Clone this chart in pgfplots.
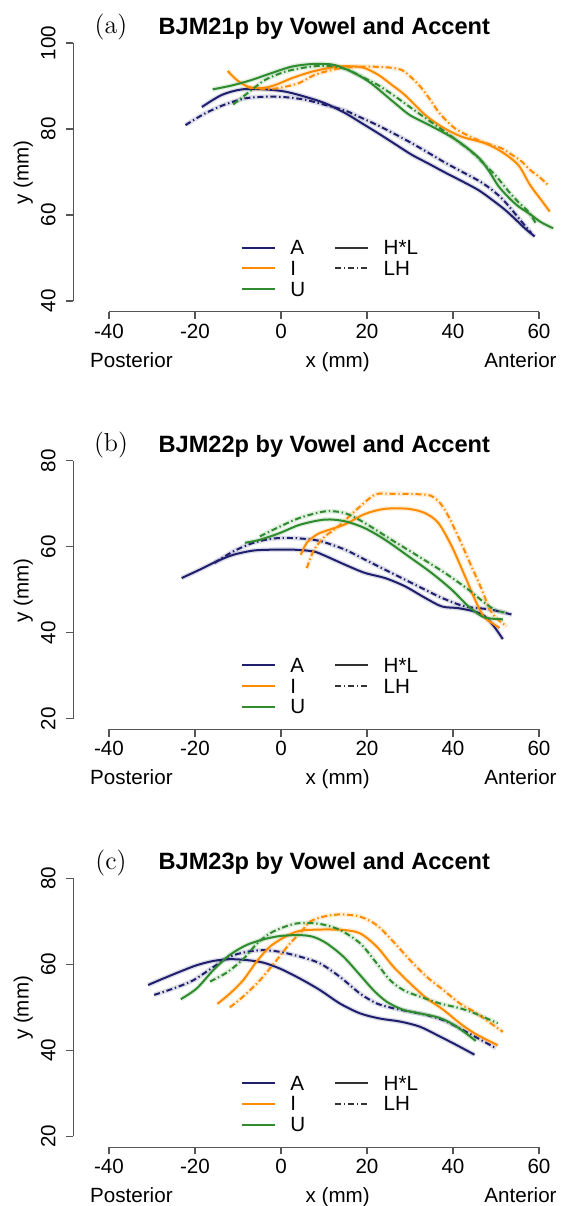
\documentclass[border=0pt]{standalone}
\usepackage{fontspec}
\usepackage{pgfplots}
\usepackage{pgfplotstable}
\pgfplotsset{compat=1.18}
\newfontfamily\sansf{Liberation Sans}
\definecolor{cA}{HTML}{1F1F6E}
\definecolor{cI}{HTML}{FF8C00}
\definecolor{cU}{HTML}{2E8B2E}
\definecolor{axc}{HTML}{555555}
\newcommand\tfont{\sansf\fontsize{10.3}{12}\selectfont}

% ---------- panel (a) ----------
\pgfplotstableread{
x y
-18.4 85.1
-13.8 87.9
-9.1 89.2
-3.7 89.2
0.9 88.7
5.6 87.5
10.2 86.0
14.9 83.7
18.7 81.4
22.6 79.0
26.5 76.5
30.4 74.0
34.2 72.0
38.1 69.9
42.0 67.9
45.9 65.8
49.0 63.6
52.1 61.2
54.5 59.0
56.7 56.9
59.0 55.0
}\paAH
\pgfplotstableread{
x y
-22.2 80.9
-17.7 83.6
-13.0 85.7
-8.4 87.1
-3.7 87.5
0.9 87.4
5.6 86.8
10.2 85.6
14.9 84.3
18.7 82.6
22.6 80.8
26.5 78.8
30.4 76.7
34.2 74.5
38.1 72.2
42.0 70.1
45.9 68.0
48.6 66.2
51.3 63.9
53.7 61.2
56.0 58.4
58.2 55.8
}\paAL
\pgfplotstableread{
x y
-12.4 93.5
-10.3 91.4
-7.6 89.8
-4.5 89.5
-1.4 90.2
2.5 91.8
7.1 93.3
11.8 94.3
14.9 94.6
19.0 94.3
22.6 92.6
25.7 90.3
28.8 87.9
33.5 83.3
37.4 80.5
42.0 78.2
47.4 76.7
51.3 74.7
55.2 71.6
57.9 67.0
60.5 63.5
62.5 60.8
}\paIH
\pgfplotstableread{
x y
-8.0 89.8
-6.8 89.5
-3.0 89.3
-0.6 89.5
4.0 90.6
7.9 92.6
11.8 93.7
14.9 94.3
20.0 94.5
25.0 94.3
28.1 93.7
30.5 91.8
32.7 89.5
34.7 86.8
36.6 84.0
38.5 81.9
40.5 80.1
43.2 78.6
45.9 77.4
48.6 76.4
51.3 75.5
53.7 74.0
56.0 72.4
57.9 70.5
60.0 68.9
62.1 67.0
}\paIL
\pgfplotstableread{
x y
-15.9 89.2
-11.5 90.1
-6.8 91.4
-2.2 93.0
2.5 94.5
7.1 95.1
11.8 95.0
14.9 94.0
18.0 92.5
21.1 90.5
26.5 86.0
30.0 83.2
34.3 81.0
40.5 77.6
45.9 73.4
48.5 70.0
50.5 66.8
53.0 64.0
55.2 62.0
57.9 60.2
60.5 58.3
63.3 56.9
}\paUH
\pgfplotstableread{
x y
-11.1 85.7
-6.8 89.1
-3.7 91.4
0.9 93.3
5.6 94.3
10.2 94.7
14.9 94.0
18.7 92.2
22.6 90.2
26.5 87.6
30.4 84.8
34.2 82.1
38.1 79.4
41.2 77.1
44.3 74.7
47.0 72.1
49.8 69.3
51.7 67.0
53.6 64.7
55.6 62.6
57.5 60.8
59.3 58.0
}\paUL

% ---------- panel (b) ----------
\pgfplotstableread{
x y
-23.1 52.7
-18.8 54.7
-14.9 56.6
-11.1 58.1
-6.4 59.1
-1.8 59.3
2.9 59.3
7.5 58.9
10.2 57.9
14.9 55.8
19.5 53.9
24.2 52.7
28.8 50.8
33.5 48.1
37.4 46.1
41.2 45.7
45.1 44.9
47.4 43.8
49.5 41.5
51.6 38.5
}\pbAH
\pgfplotstableread{
x y
-15.5 56.2
-11.1 58.9
-6.4 60.9
-1.8 61.9
2.9 62.0
7.5 61.6
10.2 61.0
14.9 59.3
19.5 57.0
25.7 53.9
31.9 50.8
37.4 48.1
42.8 46.1
48.6 45.4
53.7 44.2
}\pbAL
\pgfplotstableread{
x y
4.6 58.1
6.0 60.9
8.3 62.8
10.2 63.6
14.9 65.2
19.5 67.6
24.2 68.8
29.6 68.8
33.5 67.8
36.6 65.5
39.7 60.1
42.8 53.1
45.1 47.7
47.1 43.8
49.0 42.3
50.8 41.1
}\pbIH
\pgfplotstableread{
x y
6.0 55.0
7.5 58.9
9.1 61.2
10.2 62.4
13.3 64.7
18.0 69.0
21.9 72.1
25.7 72.3
33.5 72.1
35.8 71.3
38.1 68.6
41.2 62.4
44.3 55.4
46.7 50.0
48.6 45.3
50.5 43.0
52.5 41.5
}\pbIL
\pgfplotstableread{
x y
-8.4 60.9
-4.9 61.6
-0.2 63.2
4.4 65.1
10.2 66.3
14.9 65.9
19.5 64.3
24.2 61.6
29.6 57.8
35.0 53.9
39.7 50.0
43.6 46.1
46.7 43.8
48.6 43.3
51.6 43.1
}\pbUH
\pgfplotstableread{
x y
-4.9 62.4
-0.2 64.7
4.4 66.7
10.2 68.2
14.9 67.8
19.5 65.5
25.7 61.6
31.9 57.8
38.1 53.9
43.6 50.0
47.4 46.9
50.0 45.2
52.5 44.6
}\pbUL

% ---------- panel (c) ----------
\pgfplotstableread{
x y
-30.9 55.2
-27.4 56.7
-23.5 58.3
-19.6 59.8
-15.7 60.8
-11.9 61.2
-8.0 61.0
-4.1 60.4
-0.2 59.0
4.4 56.7
9.1 54.0
13.7 50.9
18.4 48.6
23.0 47.4
27.7 46.7
32.3 45.5
37.0 43.2
40.9 41.2
45.0 39.0
}\pcAH
\pgfplotstableread{
x y
-29.5 52.9
-25.0 54.4
-20.4 56.3
-15.7 59.4
-11.9 61.8
-8.0 62.9
-4.1 63.3
-0.2 62.9
4.4 61.8
9.1 60.2
13.7 57.1
18.4 53.2
22.3 50.9
26.1 49.8
30.0 49.0
33.9 48.2
37.8 47.0
41.6 45.1
45.1 43.2
50.0 40.5
}\pcAL
\pgfplotstableread{
x y
-14.8 50.8
-11.9 53.2
-8.8 56.3
-5.7 60.6
-2.6 64.1
1.3 66.6
4.4 67.8
9.1 68.1
14.5 68.0
18.4 67.2
22.3 64.1
26.1 59.5
30.0 55.6
33.9 52.1
37.8 49.4
41.6 46.3
45.1 43.9
50.4 41.2
}\pcIH
\pgfplotstableread{
x y
-11.9 50.0
-8.8 52.5
-4.9 56.3
-1.0 61.0
2.1 64.9
4.4 67.2
6.7 69.9
9.5 71.0
12.2 71.5
14.5 71.6
18.4 71.1
22.3 69.1
26.1 65.3
30.0 61.0
33.9 57.1
37.8 54.0
41.6 50.9
45.1 48.9
48.5 46.5
51.6 44.3
}\pcIL
\pgfplotstableread{
x y
-23.3 51.9
-19.6 54.4
-15.7 58.7
-11.9 62.2
-8.0 64.5
-4.1 65.8
-0.2 66.6
4.4 66.8
7.5 66.4
10.6 64.9
14.5 61.8
18.4 57.5
21.5 54.0
24.6 51.3
28.5 49.4
32.3 48.6
37.0 47.5
40.9 45.5
45.3 42.2
}\pcUH
\pgfplotstableread{
x y
-16.5 56.0
-12.6 58.1
-8.8 61.2
-5.7 64.7
-2.6 67.2
1.3 68.9
4.4 69.6
9.1 69.4
13.7 68.0
18.4 64.9
22.3 60.2
25.3 56.4
28.5 54.0
32.3 52.5
37.0 50.9
41.6 49.8
45.1 48.6
50.4 46.3
}\pcUL

\pgfplotsset{
  tongue/.style={
    scale only axis, width=241.445pt, height=138.675pt,
    xmin=-48.3, xmax=64, anchor=south west, clip=false,
    axis x line*=bottom, axis y line*=left,
    axis line style={draw=none},
    tick align=outside, major tick length=3.6pt,
    tick style={axc, line width=0.6pt},
    xtick={-40,-20,0,20,40,60},
    xticklabels={-40,-20,0,20,40,60},
    xticklabel style={font=\tfont, anchor=base, yshift=-9.55pt},
    yticklabels={},
  },
  rib/.style={line width=2.4pt, opacity=0.15, smooth, forget plot},
  ln/.style={line width=1pt, smooth},
  ld/.style={line width=1pt, smooth, dash pattern=on 3pt off 1.4pt on 0.7pt off 1.4pt},
}

% y tick labels, rotated as in R (baseline 8.9pt = 4.14 units left of the y axis line)
\newcommand\ylab[1]{%
  \node[font=\tfont, rotate=90, anchor=base, inner sep=0pt] at (axis cs:-52.44,#1) {#1};}

\newcommand\decor[3]{%
\begin{scope}[yshift=#1]
  \node[font=\fontsize{13}{15}\selectfont, anchor=center] at (55.5pt,-13.6pt) {(#2)};
  \node[font=\sansf\bfseries\fontsize{11.8}{14}\selectfont, anchor=base] at (162.15pt,-17.15pt) {#3};
  \node[font=\tfont, rotate=90, anchor=center] at (11.7pt,-86.25pt) {y (mm)};
  \node[font=\tfont, anchor=base west, inner sep=0pt] at (44.9pt,-183.5pt) {Posterior};
  \node[font=\tfont, anchor=base, inner sep=0pt] at (168.85pt,-183.5pt) {x (mm)};
  \node[font=\tfont, anchor=base east, inner sep=0pt] at (278.5pt,-183.5pt) {Anterior};
  \draw[cA, line width=1pt] (120.85pt,-123.85pt) -- (137.5pt,-123.85pt);
  \draw[cI, line width=1pt] (120.85pt,-134.15pt) -- (137.5pt,-134.15pt);
  \draw[cU, line width=1pt] (120.85pt,-144.65pt) -- (137.5pt,-144.65pt);
  \node[font=\tfont, anchor=west, inner sep=0pt] at (145pt,-123.85pt) {A};
  \node[font=\tfont, anchor=west, inner sep=0pt] at (145pt,-134.15pt) {I};
  \node[font=\tfont, anchor=west, inner sep=0pt] at (145pt,-144.65pt) {U};
  \draw[black!80, line width=1pt] (167.5pt,-123.85pt) -- (184.15pt,-123.85pt);
  \draw[black!80, line width=1pt, dash pattern=on 3pt off 1.4pt on 0.7pt off 1.4pt] (167.5pt,-134.15pt) -- (184.15pt,-134.15pt);
  \node[font=\tfont, anchor=west, inner sep=0pt] at (191.65pt,-123.85pt) {H*L};
  \node[font=\tfont, anchor=west, inner sep=0pt] at (191.65pt,-134.15pt) {LH};
\end{scope}}

\newcommand\curves[6]{%
  \addplot[rib, cA] table {#1}; \addplot[rib, cA] table {#2};
  \addplot[rib, cI] table {#3}; \addplot[rib, cI] table {#4};
  \addplot[rib, cU] table {#5}; \addplot[rib, cU] table {#6};
  \addplot[ln, cA] table {#1}; \addplot[ld, cA] table {#2};
  \addplot[ln, cI] table {#3}; \addplot[ld, cI] table {#4};
  \addplot[ln, cU] table {#5}; \addplot[ld, cU] table {#6};
}

\begin{document}
\begin{tikzpicture}
\useasboundingbox (0pt,0pt) rectangle (281.5pt,-603pt);

% (a)
\begin{axis}[tongue, at={(36.65pt,-155.85pt)}, ymin=37.5, ymax=102,
  ytick={40,60,80,100}]
  \draw[axc, line width=0.6pt] (axis cs:-40,37.5) -- (axis cs:60,37.5);
  \draw[axc, line width=0.6pt] (axis cs:-48.3,40) -- (axis cs:-48.3,100);
  \ylab{40}\ylab{60}\ylab{80}\ylab{100}
  \curves{\paAH}{\paAL}{\paIH}{\paIL}{\paUH}{\paUL}
\end{axis}
\decor{0pt}{a}{BJM21p by Vowel and Accent}

% (b)
\begin{axis}[tongue, at={(36.65pt,-364.7pt)}, ymin=17.5, ymax=82,
  ytick={20,40,60,80}]
  \draw[axc, line width=0.6pt] (axis cs:-40,17.5) -- (axis cs:60,17.5);
  \draw[axc, line width=0.6pt] (axis cs:-48.3,20) -- (axis cs:-48.3,80);
  \ylab{20}\ylab{40}\ylab{60}\ylab{80}
  \curves{\pbAH}{\pbAL}{\pbIH}{\pbIL}{\pbUH}{\pbUL}
\end{axis}
\decor{-208.85pt}{b}{BJM22p by Vowel and Accent}

% (c)
\begin{axis}[tongue, at={(36.65pt,-573.55pt)}, ymin=17.5, ymax=82,
  ytick={20,40,60,80}]
  \draw[axc, line width=0.6pt] (axis cs:-40,17.5) -- (axis cs:60,17.5);
  \draw[axc, line width=0.6pt] (axis cs:-48.3,20) -- (axis cs:-48.3,80);
  \ylab{20}\ylab{40}\ylab{60}\ylab{80}
  \curves{\pcAH}{\pcAL}{\pcIH}{\pcIL}{\pcUH}{\pcUL}
\end{axis}
\decor{-417.7pt}{c}{BJM23p by Vowel and Accent}
\end{tikzpicture}
\end{document}
